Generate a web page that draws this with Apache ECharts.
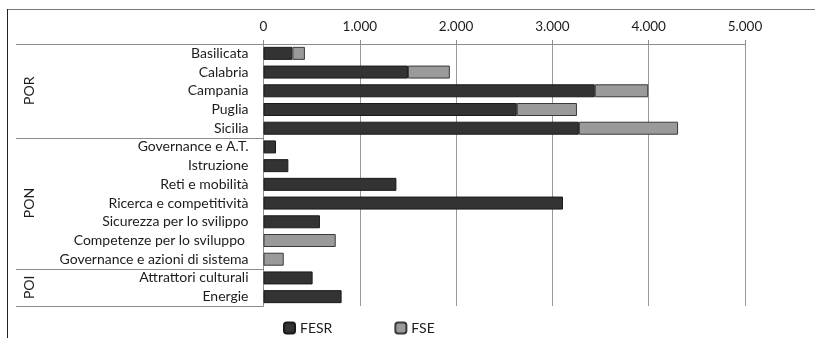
<!DOCTYPE html>
<html>
<head>
<meta charset="utf-8">
<script src="https://cdn.jsdelivr.net/npm/echarts@6/dist/echarts.min.js"></script>
<style>
  html, body { margin: 0; padding: 0; background: #fff; }
  #chart { width: 815px; height: 338px; }
</style>
</head>
<body>
<div id="chart"></div>
<script>
// Programme lines (top to bottom)
const categories = [
  'Basilicata', 'Calabria', 'Campania', 'Puglia', 'Sicilia',
  'Governance e A.T.', 'Istruzione', 'Reti e mobilità', 'Ricerca e competitività',
  'Sicurezza per lo svilippo', 'Competenze per lo sviluppo ', 'Governance e azioni di sistema',
  'Attrattori culturali', 'Energie'
];

// Resources by fund (millions of euro)
const fesr = [300, 1500, 3440, 2630, 3275, 130, 258, 1380, 3110, 586, null, null, 510, 811];
const fse  = [130, 435, 555, 625, 1030, null, null, null, null, null, 750, 210, null, null];

// Programme groups: first index, last index, label
const groupStart = [0, 5, 12];
const groupEnd   = [4, 11, 13];
const groupNames = ['POR', 'PON', 'POI'];

// Value axis ticks
const axisMin = 0, axisMax = 5000, axisStep = 1000;

const FONT = 'Lato';
const FSIZE = 14;
const TEXT = '#1c1c1c';
const LINE = '#8c8c8c';

function thousands(v) {
  return String(v).replace(/\B(?=(\d{3})+(?!\d))/g, '.');
}

const chart = echarts.init(document.getElementById('chart'), null, { renderer: 'canvas' });

chart.setOption({
  animation: false,
  textStyle: { fontFamily: FONT },
  grid: { left: 263.5, right: 70, top: 44, bottom: 32, containLabel: false },
  legend: {
    data: ['FESR', 'FSE'],
    left: 283, top: 321, padding: 0,
    itemWidth: 11, itemHeight: 11, itemGap: 62,
    textStyle: { fontFamily: FONT, fontSize: FSIZE, color: TEXT }
  },
  xAxis: {
    type: 'value', position: 'top',
    min: axisMin, max: axisMax, interval: axisStep,
    axisLine: { show: true, lineStyle: { color: LINE, width: 1 } },
    axisTick: { show: true, length: 4, lineStyle: { color: LINE } },
    splitLine: { show: true, lineStyle: { color: '#999', width: 1 } },
    axisLabel: { color: TEXT, fontSize: 13.5, fontFamily: FONT, margin: 10, formatter: thousands }
  },
  yAxis: {
    type: 'category', inverse: true, data: categories,
    axisLine: { show: true, lineStyle: { color: LINE, width: 1 } },
    axisTick: { show: false },
    axisLabel: { color: TEXT, fontSize: FSIZE, fontFamily: FONT, margin: 15, interval: 0 }
  },
  series: [
    {
      name: 'FESR', type: 'bar', stack: 'fondi', data: fesr, barWidth: 13,
      itemStyle: { color: '#333333', borderColor: '#1a1a1a', borderWidth: 1 }
    },
    {
      name: 'FSE', type: 'bar', stack: 'fondi', data: fse, barWidth: 13,
      itemStyle: { color: '#9a9a9a', borderColor: '#3a3a3a', borderWidth: 1 }
    },
    {
      // group separators of the two-level category axis
      name: 'gruppi', type: 'custom', silent: true, clip: false,
      data: groupNames.map((g, i) => [0, groupStart[i], groupEnd[i], i]),
      encode: { x: 0, y: 1 },
      renderItem: function (params, api) {
        const i = api.value(3);
        const s = api.coord([0, api.value(1)]);
        const e = api.coord([0, api.value(2)]);
        const band = api.size([0, 1])[1];
        const top = Math.round(s[1] - band / 2) + 0.5;
        const bottom = Math.round(e[1] + band / 2) + 0.5;
        const x0 = 16, x1 = s[0];
        const children = [
          { type: 'line', shape: { x1: x0, y1: top, x2: x1, y2: top }, style: { stroke: LINE, lineWidth: 1 } }
        ];
        if (i === groupNames.length - 1) {
          children.push({ type: 'line', shape: { x1: x0, y1: bottom, x2: x1, y2: bottom }, style: { stroke: LINE, lineWidth: 1 } });
        }
        return { type: 'group', children: children };
      }
    }
  ]
});

// Chart-area frame and vertical group names, placed from the category axis scale
const graphics = [
  { type: 'line', shape: { x1: 7, y1: 9.5, x2: 815, y2: 9.5 }, style: { stroke: '#777', lineWidth: 1 } },
  { type: 'line', shape: { x1: 7.5, y1: 9, x2: 7.5, y2: 338 }, style: { stroke: '#222', lineWidth: 1 } }
];
groupNames.forEach(function (name, i) {
  const y0 = chart.convertToPixel({ yAxisIndex: 0 }, groupStart[i]);
  const y1 = chart.convertToPixel({ yAxisIndex: 0 }, groupEnd[i]);
  graphics.push({
    type: 'text', x: 29, y: (y0 + y1) / 2, rotation: Math.PI / 2,
    style: { text: name, fill: TEXT, font: FSIZE + 'px ' + FONT, textAlign: 'center', textVerticalAlign: 'middle', align: 'center', verticalAlign: 'middle' }
  });
});
chart.setOption({ graphic: graphics });
</script>
</body>
</html>
